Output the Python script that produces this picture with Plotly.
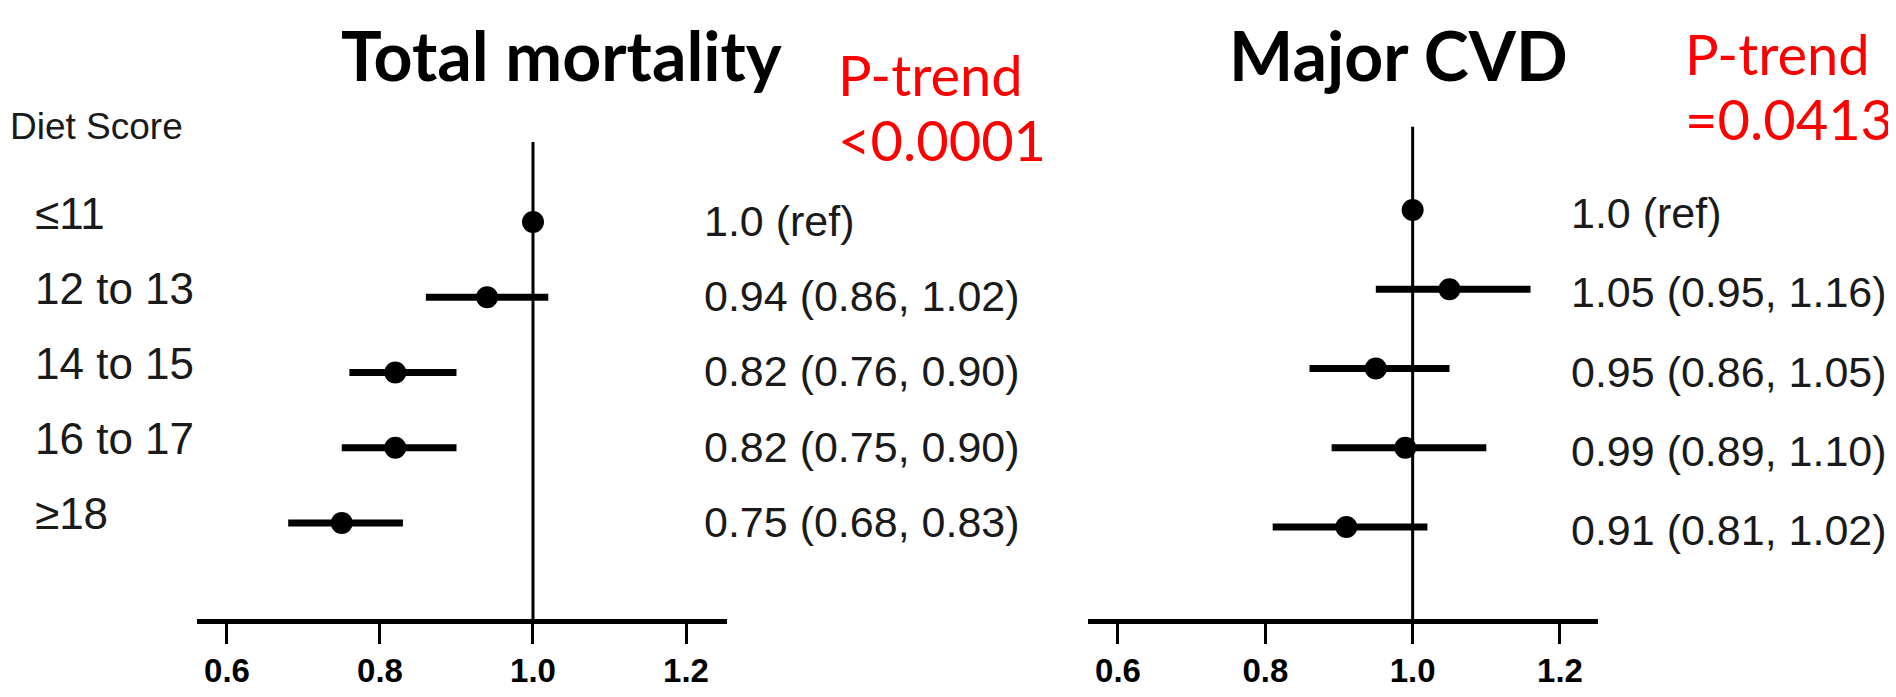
import plotly.graph_objects as go

# ---------------- data ----------------
categories = ["≤11", "12 to 13", "14 to 15", "16 to 17", "≥18"]
rows = [1, 2, 3, 4, 5]

mort_hr = [1.0, 0.94, 0.82, 0.82, 0.75]
mort_lo = [1.0, 0.86, 0.76, 0.75, 0.68]
mort_hi = [1.0, 1.02, 0.90, 0.90, 0.83]

cvd_hr = [1.0, 1.05, 0.95, 0.99, 0.91]
cvd_lo = [1.0, 0.95, 0.86, 0.89, 0.81]
cvd_hi = [1.0, 1.16, 1.05, 1.10, 1.02]

tick_vals = [0.6, 0.8, 1.0, 1.2]
tick_text = ["0.6", "0.8", "1.0", "1.2"]

panel_titles = ["Total mortality", "Major CVD"]
p_trend = ["&lt;0.0001", "=0.0413"]
ref_value = 1.0

W, H = 1896, 697


def label(hr, lo, hi, i):
    if i == 0:
        return "1.0 (ref)"
    return f"{hr:.2f} ({lo:.2f}, {hi:.2f})"


fig = go.Figure()

panels = [
    dict(hr=mort_hr, lo=mort_lo, hi=mort_hi, xa="x", ya="y"),
    dict(hr=cvd_hr, lo=cvd_lo, hi=cvd_hi, xa="x2", ya="y2"),
]

for p in panels:
    fig.add_trace(go.Scatter(
        x=p["hr"], y=rows, mode="markers",
        xaxis=p["xa"], yaxis=p["ya"],
        marker=dict(symbol="circle", size=22, color="black"),
        error_x=dict(type="data", symmetric=False,
                     array=[h - e for h, e in zip(p["hi"], p["hr"])],
                     arrayminus=[e - l for e, l in zip(p["hr"], p["lo"])],
                     thickness=7, width=0, color="black"),
        showlegend=False, hoverinfo="skip",
    ))

axis_common = dict(
    showgrid=False, zeroline=False, showline=True, linecolor="black", linewidth=5,
    ticks="outside", ticklen=20, tickwidth=3, tickcolor="black",
    tickvals=tick_vals, ticktext=tick_text,
    tickfont=dict(family="Liberation Sans", size=33, color="black", weight="bold"),
    ticklabelstandoff=-2,
)
yaxis_common = dict(showgrid=False, zeroline=False, showline=False,
                    showticklabels=False, ticks="")

ydom = [86 / H, 1]

fig.update_layout(
    width=W, height=H,
    margin=dict(l=0, r=0, t=0, b=0),
    paper_bgcolor="white", plot_bgcolor="white",
    xaxis=dict(domain=[189 / W, 719 / W], range=[0.5608, 1.2536], anchor="y", **axis_common),
    yaxis=dict(domain=ydom, range=[6.276, -1.844], anchor="x", **yaxis_common),
    xaxis2=dict(domain=[1080 / W, 1590 / W], range=[0.5593, 1.2516], anchor="y2", **axis_common),
    yaxis2=dict(domain=ydom, range=[6.161, -1.549], anchor="x2", **yaxis_common),
)

# reference lines at 1.0
fig.add_shape(type="line", xref="x", yref="y", x0=ref_value, x1=ref_value,
              y0=-0.063, y1=6.276, line=dict(color="black", width=3))
fig.add_shape(type="line", xref="x2", yref="y2", x0=ref_value, x1=ref_value,
              y0=-0.05, y1=6.161, line=dict(color="black", width=3))

txt_font = dict(family="Liberation Sans", size=43, color="#1a1a1a")

# row labels
fig.add_annotation(text="Diet Score", xref="paper", yref="paper",
                   x=0, y=1 - 118 / H, xanchor="left", yanchor="middle",
                   showarrow=False, font=dict(family="Liberation Sans", size=37, color="#1a1a1a"))
for r, c in zip(rows, categories):
    fig.add_annotation(text=c, xref="paper", yref="y", x=25 / W, y=r,
                       xanchor="left", yanchor="middle", yshift=9,
                       showarrow=False, font=dict(family="Liberation Sans", size=44, color="#1a1a1a"))

# result texts
for i, r in enumerate(rows):
    fig.add_annotation(text=label(mort_hr[i], mort_lo[i], mort_hi[i], i),
                       xref="paper", yref="y", x=694 / W, y=r,
                       xanchor="left", yanchor="middle", yshift=1,
                       showarrow=False, font=txt_font)
    fig.add_annotation(text=label(cvd_hr[i], cvd_lo[i], cvd_hi[i], i),
                       xref="paper", yref="y2", x=1561 / W, y=r,
                       xanchor="left", yanchor="middle", yshift=-3,
                       showarrow=False, font=txt_font)

# titles
title_font = dict(family="Lato", size=68, color="black", weight="bold")
fig.add_annotation(text=panel_titles[0], xref="paper", yref="paper", x=553 / W, y=1 - 46 / H,
                   xanchor="center", yanchor="middle", showarrow=False, font=title_font)
fig.add_annotation(text=panel_titles[1], xref="paper", yref="paper", x=1390 / W, y=1 - 46 / H,
                   xanchor="center", yanchor="middle", showarrow=False, font=title_font)

# p-trend texts
red_font = dict(family="Lato", size=56, color="#ff0000")
fig.add_annotation(text="P-trend", xref="paper", yref="paper", x=828 / W, y=1 - 66 / H,
                   xanchor="left", yanchor="middle", showarrow=False, font=red_font)
fig.add_annotation(text=p_trend[0], xref="paper", yref="paper", x=828 / W, y=1 - 131 / H,
                   xanchor="left", yanchor="middle", showarrow=False, font=red_font)
fig.add_annotation(text="P-trend", xref="paper", yref="paper", x=1675 / W, y=1 - 45 / H,
                   xanchor="left", yanchor="middle", showarrow=False, font=red_font)
fig.add_annotation(text=p_trend[1], xref="paper", yref="paper", x=1675 / W, y=1 - 110 / H,
                   xanchor="left", yanchor="middle", showarrow=False, font=red_font)

fig.write_html("out.html")
